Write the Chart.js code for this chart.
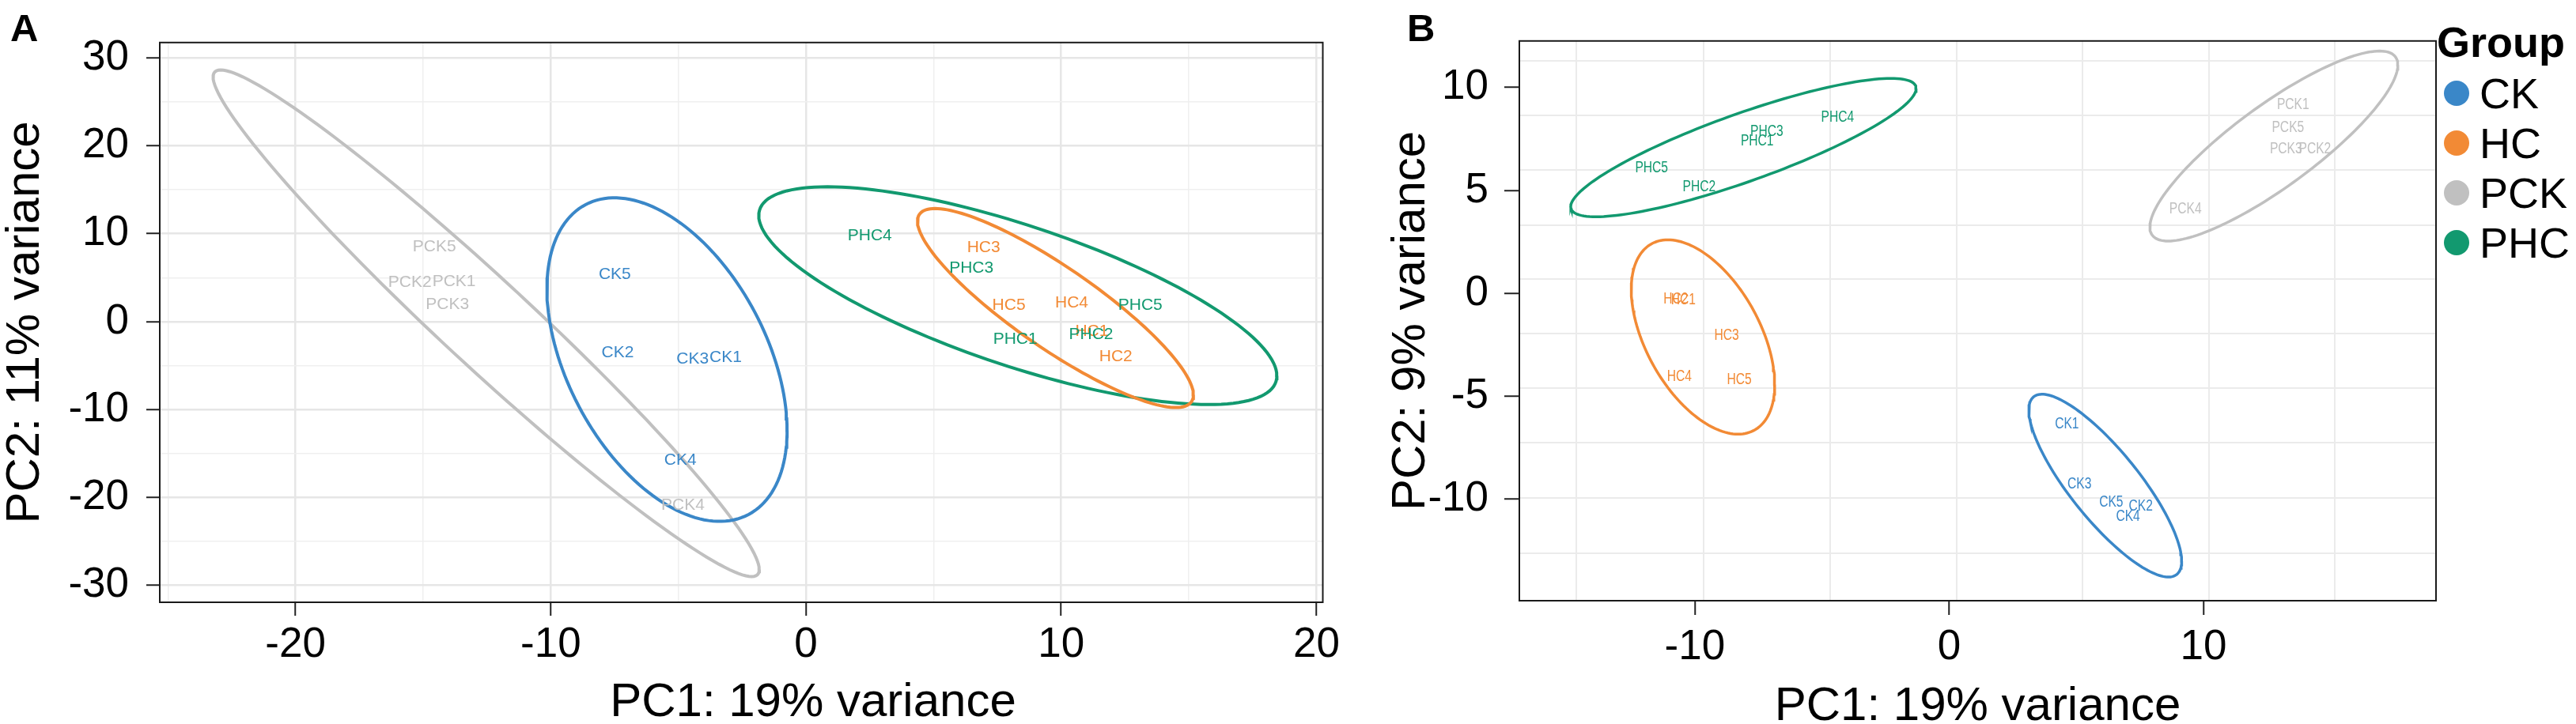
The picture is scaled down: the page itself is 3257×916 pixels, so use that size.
<!DOCTYPE html>
<html>
<head>
<meta charset="utf-8">
<title>PCA of samples</title>
<script src="https://cdn.jsdelivr.net/npm/chart.js@4.4.1/dist/chart.umd.min.js"></script>
<style>
  body {
    margin: 0;
    width: 3257px;
    height: 916px;
    overflow: hidden;
    position: relative;
    background: #fff;
    font-family: "Liberation Sans", Arial, sans-serif;
    color: #000;
  }
  canvas { position: absolute; top: 0; }
  #chartA { left: 0; }
  #chartB { left: 1700px; }
  .panel-tag {
    position: absolute;
    top: 11px;
    font-size: 49px;
    font-weight: bold;
    line-height: 1;
  }
  /* panel A x title sits over x = 0 in the figure, not mid-panel */
  .x-title-a {
    position: absolute;
    left: 728px;
    width: 600px;
    top: 856px;
    text-align: center;
    font-size: 60px;
    line-height: 1;
    white-space: nowrap;
  }
  .legend-title {
    position: absolute;
    left: 3081px;
    top: 26px;
    font-size: 54px;
    font-weight: bold;
    line-height: 1;
  }
  .legend-item {
    position: absolute;
    left: 3090px;
    height: 54px;
    display: flex;
    align-items: center;
    font-size: 54px;
    line-height: 1;
  }
  .legend-bullet {
    display: inline-block;
    width: 32px;
    height: 32px;
    border-radius: 50%;
    margin-right: 13px;
  }
</style>
</head>
<body>
<canvas id="chartA" width="1700" height="916"></canvas>
<canvas id="chartB" width="1557" height="916"></canvas>
<div class="panel-tag" style="left:13px">A</div>
<div class="panel-tag" style="left:1779px">B</div>
<div class="x-title-a">PC1: 19% variance</div>
<div class="legend-title">Group</div>
<div id="legend"></div>

<script>
const groups = ['CK', 'HC', 'PCK', 'PHC'];
const groupColors = ['#3a87c8', '#f28a35', '#c0c0c0', '#12996f'];
const replicates = ['1', '2', '3', '4', '5'];

// panel A scores, one row per group, replicates 1..5
const pc1A = [
  [-3.15, -7.38, -4.44, -4.92, -7.49],
  [11.2, 12.14, 6.96, 10.41, 7.95],
  [-13.79, -15.52, -14.05, -4.82, -14.56],
  [8.2, 11.17, 6.48, 2.5, 13.1]
];
const pc2A = [
  [-4.05, -3.56, -4.22, -15.79, 5.4],
  [-1.1, -3.99, 8.44, 2.17, 1.85],
  [4.54, 4.45, 1.93, -20.9, 8.5],
  [-2.02, -1.45, 6.13, 9.74, 1.85]
];

// panel B scores
const pc1B = [
  [4.63, 7.53, 5.12, 7.03, 6.37],
  [-10.45, -10.75, -8.75, -10.61, -8.25],
  [13.52, 14.38, 13.24, 9.29, 13.32],
  [-7.55, -9.83, -7.17, -4.39, -11.7]
];
const pc2B = [
  [-6.35, -10.36, -9.25, -10.83, -10.16],
  [-0.32, -0.28, -2.03, -4.06, -4.19],
  [9.17, 7.02, 7.02, 4.08, 8.04],
  [7.4, 5.17, 7.85, 8.56, 6.09]
];

// group ellipses: [xMin, xMax, yMin, yMax, y at xMax]
const ellipseA = [
  [-10.15, -0.74, -22.72, 14.08, -12.38],
  [4.37, 15.18, -9.77, 12.86, -8.33],
  [-23.23, -1.83, -29.0, 28.62, -28.2],
  [-1.85, 18.45, -9.43, 15.33, -6.16]
];
const ellipseB = [
  [3.13, 9.14, -13.78, -4.9, -13.01],
  [-12.5, -6.86, -6.84, 2.6, -4.43],
  [7.89, 17.64, 2.54, 11.77, 11.09],
  [-14.88, -1.3, 3.72, 10.44, 9.95]
];

// axes
const xTicksA = [-20, -10, 0, 10, 20];
const yTicksA = [-30, -20, -10, 0, 10, 20, 30];
const xMinorA = [-25, -15, -5, 5, 15];
const yMinorA = [-25, -15, -5, 5, 15, 25];
const xTicksB = [-10, 0, 10];
const yTicksB = [-10, -5, 0, 5, 10];
// panel B grid does not line up with its ticks in the figure
const xGridB = [-14.67, -9.67, -4.67, 0.3, 5.23, 10.21, 15.15];
const yGridB = [11.29, 8.63, 6.0, 3.32, 0.7, -1.95, -4.6, -7.26, -9.94, -12.62];

Chart.defaults.font.family = '"Liberation Sans", Arial, sans-serif';
Chart.defaults.color = '#000';

// trace the outline of an ellipse given its extents
function ellipsePath(e) {
  const [x0, x1, y0, y1, yr] = e;
  const cx = (x0 + x1) / 2, cy = (y0 + y1) / 2;
  const w = (x1 - x0) / 2, h = (y1 - y0) / 2, d = yr - cy;
  const v = Math.sqrt(Math.max(h * h - d * d, 0));
  const pts = [];
  for (let i = 0; i <= 160; i++) {
    const t = i / 160 * 2 * Math.PI;
    pts.push({ x: cx + w * Math.cos(t), y: cy + d * Math.cos(t) + v * Math.sin(t) });
  }
  return pts;
}

function buildDatasets(pc1, pc2, ellipses, lineWidth) {
  const sets = [];
  groups.forEach((g, i) => {
    sets.push({
      label: g + ' ellipse',
      data: ellipsePath(ellipses[i]),
      showLine: true,
      borderColor: groupColors[i],
      borderWidth: lineWidth,
      pointRadius: 0,
      fill: false
    });
  });
  groups.forEach((g, i) => {
    sets.push({
      label: g,
      data: pc1[i].map((x, j) => ({ x: x, y: pc2[i][j] })),
      names: replicates.map(r => g + r),
      textColor: groupColors[i],
      pointRadius: 0
    });
  });
  return sets;
}

// sample names written at their scores
const sampleText = {
  id: 'sampleText',
  afterDatasetsDraw(chart, args, opts) {
    const ctx = chart.ctx, a = chart.chartArea;
    ctx.save();
    ctx.beginPath();
    ctx.rect(a.left, a.top, a.width, a.height);
    ctx.clip();
    ctx.font = opts.size + 'px "Liberation Sans", Arial, sans-serif';
    ctx.textAlign = 'center';
    ctx.textBaseline = 'middle';
    chart.data.datasets.forEach((ds, i) => {
      if (!ds.names) return;
      ctx.fillStyle = ds.textColor;
      chart.getDatasetMeta(i).data.forEach((pt, j) => {
        ctx.save();
        ctx.translate(pt.x, pt.y);
        ctx.scale(opts.stretch, 1);
        ctx.fillText(ds.names[j], 0, 0);
        ctx.restore();
      });
    });
    ctx.restore();
  }
};

const panelBorder = {
  id: 'panelBorder',
  afterDraw(chart) {
    const { ctx, chartArea: a } = chart;
    ctx.save();
    ctx.strokeStyle = '#1a1a1a';
    ctx.lineWidth = 2;
    ctx.strokeRect(a.left, a.top, a.width, a.height);
    ctx.restore();
  }
};

function tickSet(major, minor) {
  return scale => {
    scale.ticks = major.concat(minor).sort((p, q) => p - q).map(v => ({ value: v }));
  };
}

function mainGrid(major, tickLength, withLines) {
  return {
    drawOnChartArea: withLines,
    color: c => major.includes(c.tick.value) ? '#e6e6e6' : '#efefef',
    lineWidth: c => major.includes(c.tick.value) ? 2.5 : 1.5,
    tickColor: c => major.includes(c.tick.value) ? '#222' : 'rgba(0,0,0,0)',
    tickLength: tickLength,
    tickWidth: 2
  };
}

// panel A
new Chart(document.getElementById('chartA'), {
  type: 'scatter',
  data: { datasets: buildDatasets(pc1A, pc2A, ellipseA, 4) },
  options: {
    responsive: false,
    animation: false,
    devicePixelRatio: 1,
    layout: { padding: { left: 0, right: 17, top: 28, bottom: 0 } },
    plugins: {
      legend: { display: false },
      tooltip: { enabled: false },
      sampleText: { size: 21, stretch: 1 }
    },
    scales: {
      x: {
        type: 'linear',
        min: -25.32,
        max: 20.25,
        afterBuildTicks: tickSet(xTicksA, xMinorA),
        afterFit: s => { s.height = 154; },
        ticks: {
          autoSkip: false,
          maxRotation: 0,
          padding: 6,
          font: { size: 53 },
          callback: v => xTicksA.includes(v) ? String(v) : ''
        },
        grid: mainGrid(xTicksA, 17, true),
        border: { display: false },
        title: { display: false }
      },
      y: {
        type: 'linear',
        min: -31.92,
        max: 31.74,
        afterBuildTicks: tickSet(yTicksA, yMinorA),
        afterFit: s => { s.width = 202; },
        ticks: {
          autoSkip: false,
          padding: 22,
          font: { size: 53 },
          callback: v => yTicksA.includes(v) ? String(v) : ''
        },
        grid: mainGrid(yTicksA, 17, true),
        border: { display: false },
        title: {
          display: true,
          text: 'PC2: 11% variance',
          font: { size: 60, lineHeight: 1 },
          padding: { top: 2, bottom: 0 }
        }
      }
    }
  },
  plugins: [sampleText, panelBorder]
});

// panel B
new Chart(document.getElementById('chartB'), {
  type: 'scatter',
  data: { datasets: buildDatasets(pc1B, pc2B, ellipseB, 3.5) },
  options: {
    responsive: false,
    animation: false,
    devicePixelRatio: 1,
    layout: { padding: { left: 0, right: 177, top: 26, bottom: 0 } },
    plugins: {
      legend: { display: false },
      tooltip: { enabled: false },
      sampleText: { size: 20, stretch: 0.78 }
    },
    scales: {
      x: {
        type: 'linear',
        min: -16.9,
        max: 19.14,
        afterBuildTicks: s => { s.ticks = xTicksB.map(v => ({ value: v })); },
        afterFit: s => { s.height = 156; },
        ticks: { autoSkip: false, maxRotation: 0, padding: 10, font: { size: 53 } },
        grid: mainGrid(xTicksB, 18, false),
        border: { display: false },
        title: {
          display: true,
          text: 'PC1: 19% variance',
          font: { size: 60, lineHeight: 0.7 },
          padding: { top: 0, bottom: 1 }
        }
      },
      y: {
        type: 'linear',
        min: -14.93,
        max: 12.26,
        afterBuildTicks: s => { s.ticks = yTicksB.map(v => ({ value: v })); },
        afterFit: s => { s.width = 221; },
        ticks: { autoSkip: false, padding: 20, font: { size: 53 } },
        grid: mainGrid(yTicksB, 19, false),
        border: { display: false },
        title: {
          display: true,
          text: 'PC2: 9% variance',
          font: { size: 60, lineHeight: 1 },
          padding: { top: 54, bottom: 0 }
        }
      },
      xGrid: {
        type: 'linear',
        axis: 'x',
        position: 'top',
        display: true,
        min: -16.9,
        max: 19.14,
        afterBuildTicks: s => { s.ticks = xGridB.map(v => ({ value: v })); },
        afterFit: s => { s.height = 0; },
        ticks: { display: false },
        grid: { color: '#ebebeb', lineWidth: 2, drawTicks: false },
        border: { display: false }
      },
      yGrid: {
        type: 'linear',
        axis: 'y',
        position: 'right',
        display: true,
        min: -14.93,
        max: 12.26,
        afterBuildTicks: s => { s.ticks = yGridB.map(v => ({ value: v })); },
        afterFit: s => { s.width = 0; },
        ticks: { display: false },
        grid: { color: '#ebebeb', lineWidth: 2, drawTicks: false },
        border: { display: false }
      }
    }
  },
  plugins: [sampleText, panelBorder]
});

// legend
const legend = document.getElementById('legend');
const legendRows = [91, 154, 217, 280];
groups.forEach((g, i) => {
  const item = document.createElement('div');
  item.className = 'legend-item';
  item.style.top = legendRows[i] + 'px';
  const bullet = document.createElement('span');
  bullet.className = 'legend-bullet';
  bullet.style.backgroundColor = groupColors[i];
  const text = document.createElement('span');
  text.textContent = g;
  item.appendChild(bullet);
  item.appendChild(text);
  legend.appendChild(item);
});
</script>
</body>
</html>
